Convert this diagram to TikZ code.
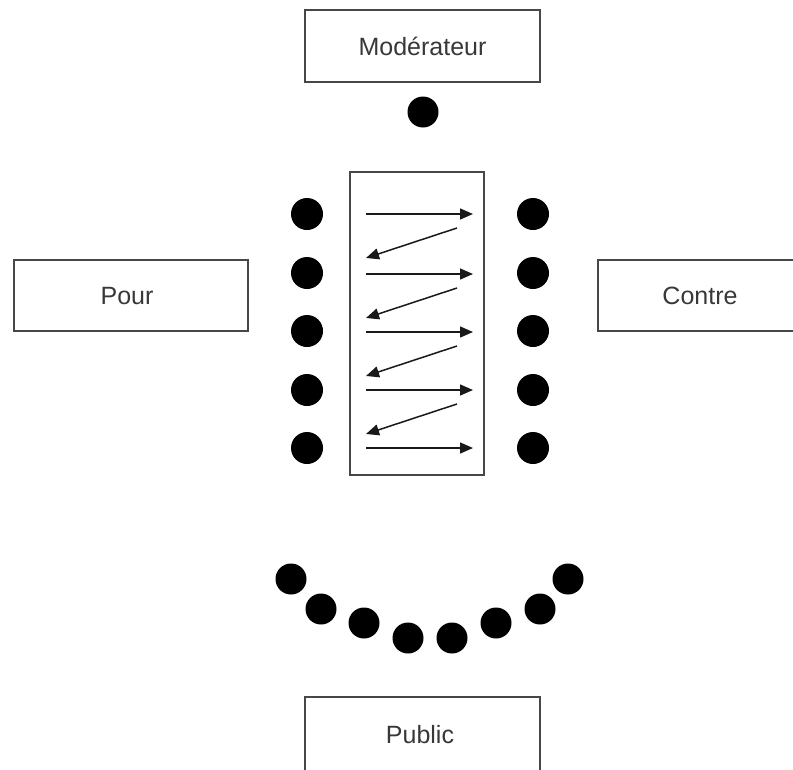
\documentclass[tikz,border=0pt]{standalone}
\usepackage{fontspec}
\setmainfont{Liberation Sans}
\usetikzlibrary{arrows.meta}
\begin{document}
\begin{tikzpicture}[x=1pt,y=-1pt,
  box/.style={draw=black!72, line width=1.6pt, inner sep=0pt},
  dot/.style={circle, fill=black, minimum size=32pt, inner sep=0pt},
  lbl/.style={font=\fontsize{25}{30}\selectfont, text=black!78, inner sep=0pt},
  arr/.style={line width=1.5pt, draw=black!90, -{Triangle[length=13pt,width=11pt]}}]
\useasboundingbox (0,0) rectangle (793,769);
\clip (0,0) rectangle (793,769);
% boxes
\node[box, minimum width=235pt, minimum height=72pt] (mod) at (422.5,46) {};
\node[lbl] (modt) at (mod.center) {Modérateur};
\node[box, minimum width=234pt, minimum height=71pt] (pour) at (131,295.5) {};
\node[lbl] (pourt) at (127,296) {Pour};
\node[box, minimum width=204pt, minimum height=71pt] (contre) at (700,295.5) {};
\node[lbl] (contret) at (700,296) {Contre};
\node[box, minimum width=235pt, minimum height=110pt] (pub) at (422.5,752) {};
\node[lbl] (pubt) at (420,735) {Public};
\node[box, minimum width=134pt, minimum height=303pt] (table) at (417,323.5) {};
% moderator
\node[dot, minimum size=31pt] (m) at (423,112) {};
% debaters
\foreach \i/\y in {1/214,2/273,3/331,4/390,5/448}{
  \node[dot] (l\i) at (307,\y) {};
  \node[dot] (r\i) at (533,\y) {};
}
% exchange arrows
\foreach \i/\y in {1/214,2/274,3/332,4/390,5/448}{
  \coordinate (a\i) at (366,\y);
  \coordinate (b\i) at (473,\y);
  \draw[arr] (a\i) -- (b\i);
}
\foreach \i/\y in {1/228,2/288,3/346,4/404}{
  \coordinate (c\i) at (457,\y);
  \coordinate (d\i) at (366,\y+30);
  \draw[arr] (c\i) -- (d\i);
}
% public
\foreach \i/\x/\y in {1/291/579,2/321/609,3/364/623,4/408/638,5/452/638,6/496/623,7/540/609,8/568/579}{
  \node[dot, minimum size=31pt] (p\i) at (\x,\y) {};
}
\end{tikzpicture}
\end{document}
